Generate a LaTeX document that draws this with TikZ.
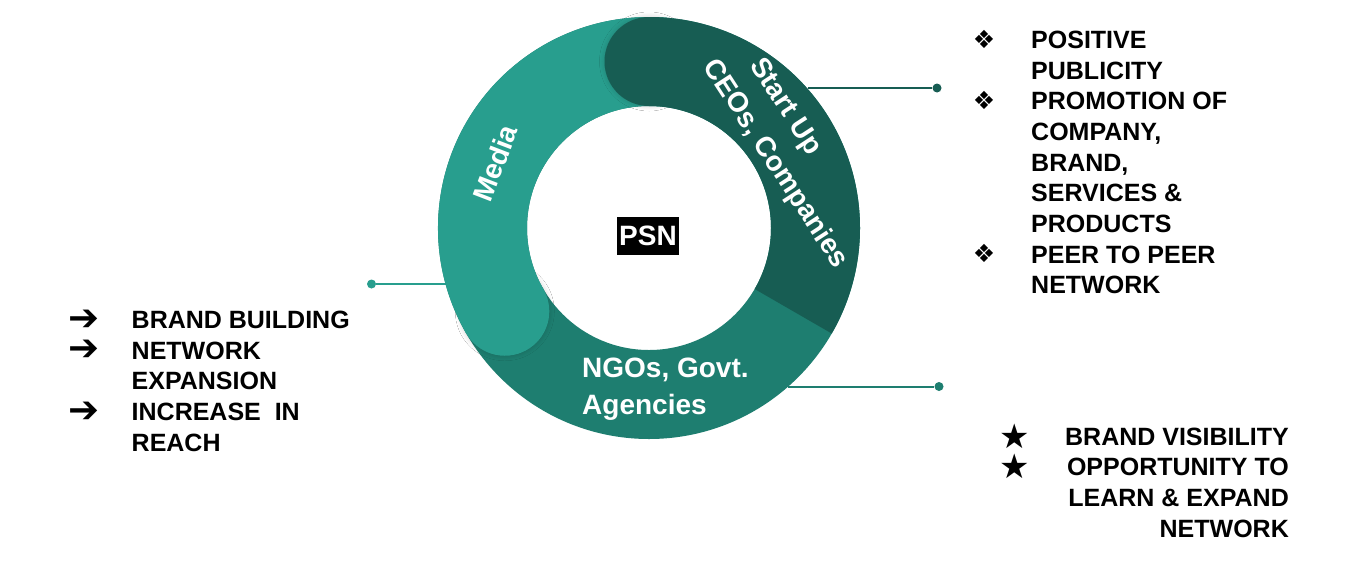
\documentclass[tikz,border=0pt]{standalone}
\usepackage{fontspec}
\setmainfont{Liberation Sans}
\newfontfamily\symfont{DejaVu Sans}
\usetikzlibrary{shadows.blur}
\definecolor{mediaC}{RGB}{40,158,142}
\definecolor{darkC}{RGB}{23,93,83}
\definecolor{ngoC}{RGB}{30,126,112}
\tikzset{
  listtxt/.style={anchor=base west, inner sep=0pt, font=\bfseries\fontsize{25}{30}\selectfont},
  listtxtR/.style={listtxt, anchor=base east},
  bul/.style={anchor=center, inner sep=0pt},
  ringlbl/.style={inner sep=0pt, text=white, font=\bfseries\fontsize{28}{34}\selectfont},
  tdot/.style={circle, inner sep=0pt, minimum size=9pt},
  conn/.style={line width=2pt},
  capshadow/.style={blur shadow={shadow xshift=0pt, shadow yshift=0pt, shadow blur radius=5pt, shadow blur steps=14, shadow opacity=18}},
}
\begin{document}
\begin{tikzpicture}[x=1pt,y=-1pt]
\fill[white] (0,0) rectangle (1351,574);
\useasboundingbox (0,0) rectangle (1351,574);
\coordinate (C) at (649,228);
% connectors
\coordinate (r1) at (807.5,88);
\node[tdot, fill=darkC] (d1) at (937,88) {};
\draw[conn, darkC] (r1) -- (d1);
\coordinate (r2) at (446,284);
\node[tdot, fill=mediaC] (d2) at (371.5,284) {};
\draw[conn, mediaC] (r2) -- (d2);
\coordinate (r3) at (788,386.5);
\node[tdot, fill=ngoC] (d3) at (939,386.5) {};
\draw[conn, ngoC] (r3) -- (d3);
% ring
\fill[ngoC, even odd rule] (C) circle[radius=211] (C) circle[radius=122];
\fill[mediaC, capshadow] ([shift={(150:166.5)}]C) circle[radius=44.5];
\fill[mediaC] ([shift={(150:211)}]C) arc[start angle=150, end angle=275, radius=211]
  -- ([shift={(275:122)}]C) arc[start angle=275, end angle=150, radius=122] -- cycle;
\fill[darkC, capshadow] ([shift={(-90:166.5)}]C) circle[radius=44.5];
\fill[darkC] ([shift={(-90:211)}]C) arc[start angle=-90, end angle=30, radius=211]
  -- ([shift={(30:122)}]C) arc[start angle=30, end angle=-90, radius=122] -- cycle;
% ring labels
\node[ringlbl, rotate=69] (media) at (495,163) {Media};
\node[ringlbl, rotate=-57] (startup) at (785,107) {Start Up};
\node[ringlbl, rotate=-57] (ceos) at (775,164) {CEOs, Companies};
\node[ringlbl, anchor=base west] (ngo1) at (582,377) {NGOs, Govt.};
\node[ringlbl, anchor=base west] (ngo2) at (582,414) {Agencies};
% centre
\node[fill=black, text=white, inner sep=0pt, minimum width=62pt, minimum height=38pt,
  font=\bfseries\fontsize{28}{34}\selectfont] (psn) at (648,235.5) {PSN};
% left list
\foreach \t [count=\i from 0] in {BRAND BUILDING, NETWORK, EXPANSION, INCREASE\ \ IN, REACH}
  \node[listtxt] (L\i) at (131.5,328.3+30.7*\i) {\t};
\foreach \i in {0,1,3}
  \node[bul, font=\symfont\fontsize{37}{40}\selectfont] (LA\i) at (84,320+30.7*\i) {➔};
% right top list
\foreach \t [count=\i from 0] in {POSITIVE, PUBLICITY, PROMOTION OF, {COMPANY,}, {BRAND,}, SERVICES \&, PRODUCTS, PEER TO PEER, NETWORK}
  \node[listtxt] (R\i) at (1031,48.3+30.7*\i) {\t};
\foreach \i in {0,2,7}
  \node[bul, font=\symfont\fontsize{25}{30}\selectfont] (RB\i) at (984,39+30.7*\i) {❖};
% right bottom list
\foreach \t [count=\i from 0] in {BRAND VISIBILITY, OPPORTUNITY TO, LEARN \& EXPAND, NETWORK}
  \node[listtxtR] (S\i) at (1289,445+30.7*\i) {\t};
\foreach \i in {0,1}
  \node[bul, font=\symfont\fontsize{34}{38}\selectfont] (SB\i) at (1015,436+30.7*\i) {★};
\end{tikzpicture}
\end{document}
